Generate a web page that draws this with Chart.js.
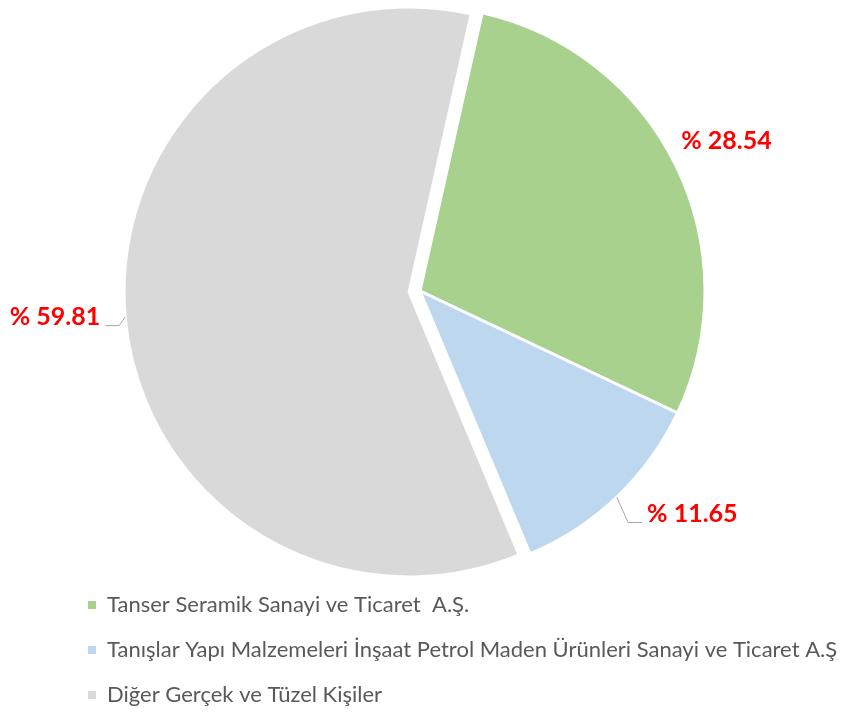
<!DOCTYPE html>
<html lang="tr">
<head>
<meta charset="UTF-8">
<title>Ortaklık Yapısı</title>
<script src="https://cdn.jsdelivr.net/npm/chart.js@4.4.1/dist/chart.umd.min.js"></script>
<style>
    html, body { margin: 0; padding: 0; background: #ffffff; }
    #graficaOrtaklik { display: block; }
</style>
</head>
<body>
<canvas id="graficaOrtaklik" width="856" height="713"></canvas>
<script>
"use strict";

/**
 * Datos de la grafica
 */
const categorias = [
    "Tanser Seramik Sanayi ve Ticaret  A.Ş.",
    "Tanışlar Yapı Malzemeleri İnşaat Petrol Maden Ürünleri Sanayi ve Ticaret A.Ş",
    "Diğer Gerçek ve Tüzel Kişiler",
];
const porcentajes = [28.54, 11.65, 59.81];
const colores = ["#A9D18E", "#BDD7EE", "#D9D9D9"];

/**
 * Separacion de cada porcion y ajuste de etiquetas
 */
const separacion = [0, 0, 11];
const giroEtiqueta = [0, -7, 1];
const distanciaEtiqueta = [56, 67, 70];
const lineaGuia = [false, true, true];

document.addEventListener("DOMContentLoaded", () => {
    const idchar = document.querySelector("#graficaOrtaklik");

    function puntoPolar(x, y, angulo, radio) {
        return {
            x: x + Math.cos(angulo) * radio,
            y: y + Math.sin(angulo) * radio,
        };
    }

    function desplazamiento(arc, i) {
        const medio = (arc.startAngle + arc.endAngle) / 2;
        return {
            dx: Math.cos(medio) * separacion[i],
            dy: Math.sin(medio) * separacion[i],
        };
    }

    /**
     * Dibuja las porciones con su separacion sin agrandar el radio
     */
    const porcionesSeparadas = {
        id: "porcionesSeparadas",
        beforeDatasetDraw(chart, args) {
            const { ctx } = chart;
            args.meta.data.forEach((arc, i) => {
                const { dx, dy } = desplazamiento(arc, i);
                ctx.save();
                ctx.translate(dx, dy);
                arc.draw(ctx);
                ctx.restore();
            });
            return false;
        },
    };

    /**
     * Etiquetas de porcentaje con linea guia
     */
    const etiquetasPorcentaje = {
        id: "etiquetasPorcentaje",
        afterDatasetsDraw(chart) {
            const { ctx } = chart;
            const meta = chart.getDatasetMeta(0);

            ctx.save();
            ctx.font = "bold 25px Lato";
            ctx.textBaseline = "middle";
            ctx.textAlign = "center";

            meta.data.forEach((arc, i) => {
                const { dx, dy } = desplazamiento(arc, i);
                const cx = arc.x + dx;
                const cy = arc.y + dy;
                const medio = (arc.startAngle + arc.endAngle) / 2;
                const texto = "% " + porcentajes[i].toFixed(2);
                const ancho = ctx.measureText(texto).width;
                const pos = puntoPolar(
                    cx,
                    cy,
                    medio + (giroEtiqueta[i] * Math.PI) / 180,
                    arc.outerRadius + distanciaEtiqueta[i]
                );

                if (lineaGuia[i]) {
                    const borde = puntoPolar(cx, cy, medio, arc.outerRadius);
                    const lado = pos.x < cx ? 1 : -1;
                    const xTexto = pos.x + (lado * ancho) / 2;
                    const yLinea = pos.y + 8.5;

                    ctx.beginPath();
                    ctx.moveTo(borde.x, borde.y);
                    ctx.lineTo(xTexto + lado * 19, yLinea);
                    ctx.lineTo(xTexto + lado * 5, yLinea);
                    ctx.strokeStyle = "#A6A6A6";
                    ctx.lineWidth = 1;
                    ctx.stroke();
                }

                ctx.fillStyle = "#FF0000";
                ctx.fillText(texto, pos.x, pos.y);
            });
            ctx.restore();
        },
    };

    new Chart(idchar, {
        type: "pie",
        data: {
            labels: categorias,
            datasets: [
                {
                    data: porcentajes,
                    backgroundColor: colores,
                    borderColor: "#FFFFFF",
                    borderWidth: 3,
                },
            ],
        },
        options: {
            responsive: false,
            animation: false,
            rotation: 12.6,
            radius: 285,
            layout: {
                padding: { top: 11, left: 65, right: 0, bottom: -3 },
            },
            plugins: {
                tooltip: { enabled: false },
                /**
                 * Titulo vacio a la derecha: solo reserva espacio
                 * para centrar el pastel sin recortar la leyenda
                 */
                title: {
                    display: true,
                    position: "right",
                    text: "",
                    padding: 0,
                    font: { size: 81, lineHeight: 1 },
                },
                legend: {
                    position: "bottom",
                    align: "start",
                    labels: {
                        boxWidth: 8,
                        boxHeight: 8,
                        padding: 23,
                        color: "#595959",
                        font: { family: "Lato", size: 22 },
                        generateLabels: (chart) =>
                            Chart.overrides.pie.plugins.legend.labels
                                .generateLabels(chart)
                                .map((item) => ({ ...item, lineWidth: 0 })),
                    },
                },
            },
        },
        plugins: [porcionesSeparadas, etiquetasPorcentaje],
    });
});
</script>
</body>
</html>
